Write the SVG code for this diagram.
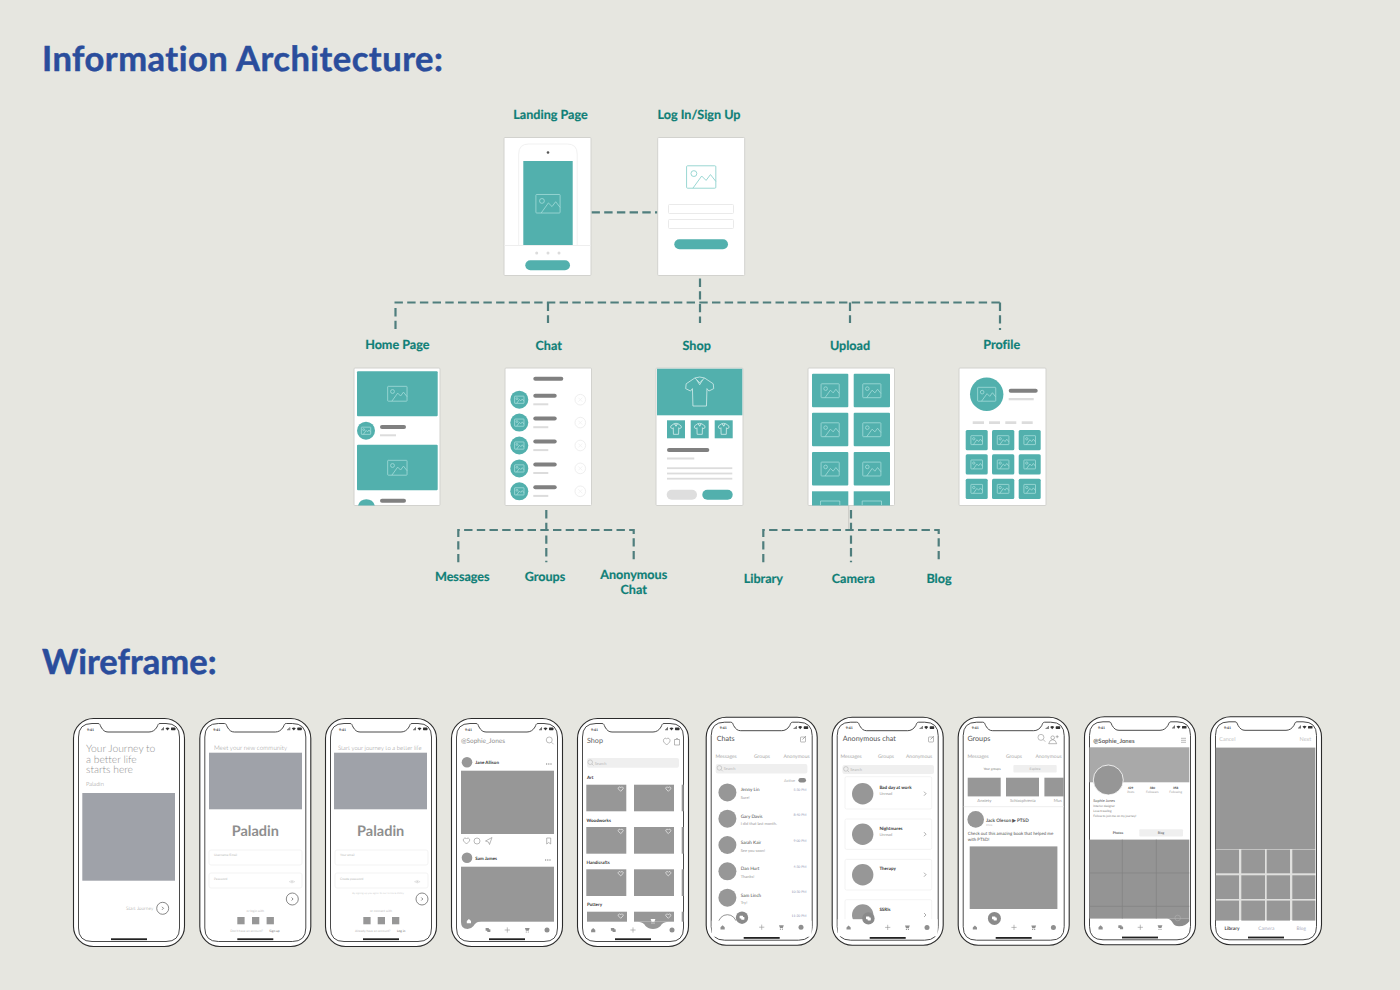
<svg xmlns="http://www.w3.org/2000/svg" width="1400" height="990" viewBox="0 0 1400 990">
<style>
text{font-family:Lato,"Liberation Sans",sans-serif;font-variant-ligatures:none;text-rendering:geometricPrecision}
.h{font-size:34.5px;font-weight:700;fill:#2a4d9c;stroke:#2a4d9c;stroke-width:.5}
.l{font-size:12.6px;font-weight:700;fill:#0f7f77;text-anchor:middle;stroke:#0f7f77;stroke-width:.2}
.card{fill:#fff;stroke:#d2d2ce;stroke-width:1}
.teal{fill:#52b0ad}
.ic{fill:none;stroke:#8fd2ce;stroke-width:.9}
.ic2{fill:none;stroke:#a5dcd9;stroke-width:.8}
#pic *,#shirt *{vector-effect:non-scaling-stroke}
.dk{fill:#808080}
.lt{fill:#dcdcdc}
.xc{fill:none;stroke:#efefef;stroke-width:1}
.dash{fill:none;stroke:#4f7e7d;stroke-width:2.2;stroke-dasharray:8.4 4.3}
.o{fill:#fff;stroke:#2b2b2b;stroke-width:1.1}
.i{fill:#fff;stroke:#4a4a4a;stroke-width:1}
.g{fill:#979797}
.bl{fill:#9fa2a9}
.lgt{font-weight:300;fill:#8f8f8f}
.fld{fill:#fff;stroke:#f0f0f0;stroke-width:.8}
.s3{font-size:3.2px;fill:#b9b9b9}
.b45{font-size:4.5px;font-weight:700;fill:#333}
.t5{font-size:5px;fill:#a8a8a8}
.t4{font-size:4px;fill:#9a9a9a}
.t3{font-size:3.4px;fill:#8e96b4}
.nm{font-size:4.6px;fill:#444}
.sb{fill:#efefef}
.stk{fill:none;stroke:#8a8a8a;stroke-width:.6}
.mid{text-anchor:middle}
.end{text-anchor:end}
.tabi{fill:#8f8f8f;stroke:#8f8f8f}
</style>
<defs>
<symbol id="pic" viewBox="0 0 31 24" overflow="visible">
<rect x=".5" y=".5" width="30" height="23" rx="1"/>
<circle cx="8" cy="8.500" r="3"/>
<path d="M7 23.500 16 11l4.500 4.500L25 9.500l5.500 7"/>
</symbol>
<symbol id="shirt" viewBox="0 0 30 31" overflow="visible">
<path d="M10 1 1 7l-.5 5 5 2.500 2-2.500.5 18h14l.5-18 2 2.500 5-2.500-.5-5L20 1l-5 5z"/>
<path d="M10 1l5-1 5 1M12 3l3 5 3-5"/>
</symbol>
<g id="hm"><path d="M-2.200 0-.1-2 2 0v2.200H-2.200z"/></g>
<g id="ch"><rect x="-2.400" y="-2" width="3.400" height="2.800" rx=".4"/><rect x="-.8" y="-.8" width="3.200" height="2.800" rx=".4"/></g>
<g id="pl"><path d="M-2.600 0H2.600M0-2.600V2.600" stroke-width=".6" fill="none"/></g>
<g id="ct"><path d="M-2.400-2H2.400L1.400.8H-1.400z"/><circle cx="-1" cy="2" r=".6"/><circle cx="1" cy="2" r=".6"/></g>
<g id="dt"><circle r="2.500"/></g>
<g id="heart"><path d="M0 2.300-2.300 0C-3.300-1.500-1-3 0-1.300 1-3 3.300-1.500 2.300 0z" fill="none" stroke="#fff" stroke-width=".6"/></g>
<g id="chev"><path d="M-1-2 1 0-1 2" fill="none" stroke="#888" stroke-width=".7"/></g>
<g id="phone">
<rect class="o" x=".5" y=".5" width="111" height="228" rx="20"/>
<path class="i" d="M5.500 19Q5.500 5.500 19 5.500H25C27 5.500 27 7 28 9 30 12.500 32 14 35 14H76C79 14 82 12.500 84 9 85 7 85 5.500 87 5.500H93Q106.500 5.500 106.500 19V210Q106.500 223.500 93 223.500H19Q5.500 223.500 5.500 210Z"/>
<rect x="38" y="220.300" width="36" height="1.800" fill="#222"/>
<text x="14" y="12.800" font-size="3.500" font-weight="700" fill="#333">9:41</text>
<path d="M88 12.200h.7v-1H88zM89.100 12.200h.7v-2h-.7zM90.200 12.200h.7v-3h-.7z" fill="#333"/>
<path d="M92.500 10.300q2-1.800 4 0l-2 2.200z" fill="#333"/>
<rect x="98" y="9.600" width="4.500" height="2.600" rx=".6" fill="#333"/>
</g>
<g id="cb"><circle r="6" fill="#fff" stroke="#555" stroke-width=".7"/><path d="M-.7-1.500.8 0-.7 1.500" fill="none" stroke="#555" stroke-width=".7"/></g>
<g id="sq"><rect x="0" y="0" width="7.300" height="7.300" class="g"/></g>
<g id="eye"><path d="M-2.800 0Q0-2.500 2.800 0 0 2.500-2.800 0z" fill="none" stroke="#ccc" stroke-width=".5"/><circle r=".8" fill="#ccc"/></g>
<g id="srch"><circle cx="-.8" cy="-.8" r="2.300" fill="none" stroke="#999" stroke-width=".5"/><path d="M1 1 2.500 2.500" stroke="#999" stroke-width=".5"/></g>
<g id="comp"><rect x="-2.500" y="-2" width="5" height="5" rx=".6" fill="none" stroke="#777" stroke-width=".5"/><path d="M-.5 .5 3-3" stroke="#777" stroke-width=".6"/></g>
<g id="cr"><circle class="teal" cx="519.300" cy="399.700" r="9"/><use href="#pic" class="ic2" x="514.300" y="396" width="10" height="7.500"/><rect class="dk" x="533.300" y="393.700" width="23.400" height="4" rx="2"/><rect class="lt" x="533.300" y="403.300" width="15" height="2"/><circle class="xc" cx="580.300" cy="399.700" r="5.300"/><path d="M578.300 397.700l4 4m0-4l-4 4" stroke="#efefef" stroke-width=".7"/></g>
</defs>
<rect width="1400" height="990" fill="#e6e6e0"/>
<text class="h" x="42" y="71" letter-spacing=".5">Information Architecture:</text>
<text class="h" x="42" y="674" letter-spacing=".05">Wireframe:</text>

<g id="connectors">
<path class="dash" d="M591.500 212.300H658"/>
<path class="dash" d="M700 278.500V323"/>
<path class="dash" d="M394.500 302.500H1001"/>
<path class="dash" d="M395.500 308V330"/>
<path class="dash" d="M548 302.500V323"/>
<path class="dash" d="M850 302.500V323"/>
<path class="dash" d="M1000 302.500V330"/>
<path class="dash" d="M546.300 510V562.300"/>
<path class="dash" d="M458.300 562.300V530H633.700V562.300"/>
<path d="M848.700 506V530" stroke="#c9c9c5" fill="none"/>
<path class="dash" d="M851 510V562.300"/>
<path class="dash" d="M763.300 562.300V530H938.700V562.300"/>
</g>

<g id="landing"><text class="l" x="550.500" y="118.700">Landing Page</text>
<rect class="card" x="504" y="137.500" width="87" height="138" rx="1"/>
<path d="M518.700 245V154q0-10 10-10h38.500q10 0 10 10v91" fill="none" stroke="#f1f1f1"/>
<circle cx="548" cy="152.500" r="1.300" fill="#555"/>
<rect class="teal" x="523.300" y="161" width="49.400" height="84.300"/>
<use href="#pic" class="ic2" x="535.500" y="194" width="25" height="19.500"/>
<path d="M504.500 245.500H590.500" stroke="#eee"/>
<circle cx="536.700" cy="253" r="1.500" class="lt"/><circle cx="548" cy="253" r="1.500" class="lt"/><circle cx="559" cy="253" r="1.500" class="lt"/>
<rect class="teal" x="525.300" y="260.300" width="44.700" height="10" rx="5"/></g>

<g id="login"><text class="l" x="699" y="118.700">Log In/Sign Up</text>
<rect class="card" x="657.700" y="137.500" width="87" height="138" rx="1"/>
<use href="#pic" class="ic" x="685.700" y="165.300" width="31" height="23.400"/>
<rect class="fld" x="668.500" y="204.500" width="65" height="9" rx="1" style="stroke:#e4e4e4"/>
<rect class="fld" x="668.500" y="219.500" width="65" height="9" rx="1" style="stroke:#e4e4e4"/>
<rect class="teal" x="674.300" y="239.300" width="53.700" height="10" rx="5"/></g>

<g id="home"><text class="l" x="397.300" y="348.700">Home Page</text>
<rect class="card" x="354" y="368" width="86" height="137.500" rx="1"/>
<rect class="teal" x="357" y="371.300" width="80.700" height="45" rx="1"/>
<use href="#pic" class="ic2" x="387" y="386" width="20.700" height="15.500"/>
<circle class="teal" cx="366" cy="430.700" r="9"/><use href="#pic" class="ic2" x="361" y="427" width="10" height="7.500"/>
<rect class="dk" x="380" y="425" width="26" height="4" rx="2"/><rect class="lt" x="380" y="434.300" width="16" height="2"/>
<rect class="teal" x="357" y="444.700" width="80.700" height="45.600" rx="1"/>
<use href="#pic" class="ic2" x="387" y="460" width="20.700" height="15.500"/>
<path class="teal" d="M358 505.500a8.800 8.800 0 0 1 16.800 0z"/>
<rect class="dk" x="380" y="498.700" width="26" height="4" rx="2"/></g>

<g id="chat"><text class="l" x="548.700" y="349.700">Chat</text>
<rect class="card" x="505" y="368" width="86.500" height="137.500" rx="1"/>
<rect class="dk" x="533.300" y="376.700" width="30" height="4" rx="2"/>
<use href="#cr"/><use href="#cr" y="22.900"/><use href="#cr" y="45.800"/><use href="#cr" y="68.700"/><use href="#cr" y="91.600"/></g>

<g id="shop"><text class="l" x="696.700" y="350">Shop</text>
<rect class="card" x="656" y="368" width="87" height="137.500" rx="1"/>
<rect class="teal" x="657" y="368.700" width="85.300" height="46.600"/>
<use href="#shirt" class="ic2" x="685.200" y="377" width="29" height="30" style="stroke:#d5eeec"/>
<rect class="teal" x="667" y="420.300" width="18" height="18"/><use href="#shirt" class="ic2" x="670.500" y="423" width="11" height="12" style="stroke:#d5eeec"/>
<rect class="teal" x="690.700" y="420.300" width="18" height="18"/><use href="#shirt" class="ic2" x="694.200" y="423" width="11" height="12" style="stroke:#d5eeec"/>
<rect class="teal" x="714.700" y="420.300" width="18" height="18"/><use href="#shirt" class="ic2" x="718.200" y="423" width="11" height="12" style="stroke:#d5eeec"/>
<rect class="dk" x="667" y="448" width="42.300" height="4" rx="2"/>
<rect class="lt" x="667" y="457.500" width="27.300" height="2"/>
<rect class="lt" x="667" y="467.300" width="65.300" height="1.800"/><rect class="lt" x="667" y="472.600" width="65.300" height="1.800"/><rect class="lt" x="667" y="477.800" width="65.300" height="1.800"/>
<rect x="666.700" y="489.700" width="30.300" height="10" rx="5" fill="#dedede"/>
<rect class="teal" x="702.300" y="489.700" width="30.400" height="10" rx="5"/></g>

<g id="upload"><text class="l" x="850" y="349.700">Upload</text>
<rect class="card" x="808" y="368" width="86.500" height="137.500" rx="1"/>
<rect class="teal" x="812" y="373.700" width="36.300" height="33.600" rx="1"/><use href="#pic" class="ic2" x="820.500" y="383.500" width="19.300" height="14.500"/>
<rect class="teal" x="853.700" y="373.700" width="36.300" height="33.600" rx="1"/><use href="#pic" class="ic2" x="862.200" y="383.500" width="19.300" height="14.500"/>
<rect class="teal" x="812" y="412.700" width="36.300" height="33.600" rx="1"/><use href="#pic" class="ic2" x="820.500" y="422.500" width="19.300" height="14.500"/>
<rect class="teal" x="853.700" y="412.700" width="36.300" height="33.600" rx="1"/><use href="#pic" class="ic2" x="862.200" y="422.500" width="19.300" height="14.500"/>
<rect class="teal" x="812" y="452" width="36.300" height="33.600" rx="1"/><use href="#pic" class="ic2" x="820.500" y="461.800" width="19.300" height="14.500"/>
<rect class="teal" x="853.700" y="452" width="36.300" height="33.600" rx="1"/><use href="#pic" class="ic2" x="862.200" y="461.800" width="19.300" height="14.500"/>
<rect class="teal" x="812" y="491.300" width="36.300" height="14.200"/><path class="ic2" d="M820.500 505V501h19.300v4"/>
<rect class="teal" x="853.700" y="491.300" width="36.300" height="14.200"/><path class="ic2" d="M862.200 505V501h19.300v4"/></g>

<g id="profile"><text class="l" x="1001.700" y="348.700">Profile</text>
<rect class="card" x="959" y="368" width="87" height="137.500" rx="1"/>
<circle class="teal" cx="986.700" cy="394.300" r="16.700"/><use href="#pic" class="ic2" x="976.700" y="387" width="20" height="14.500"/>
<rect class="dk" x="1008.700" y="388.700" width="29" height="4" rx="2"/><rect class="lt" x="1008.700" y="398" width="25" height="2.300"/>
<rect class="lt" x="972.700" y="421.300" width="11.300" height="2.700"/><rect class="lt" x="989" y="421.300" width="11" height="2.700"/><rect class="lt" x="1005.300" y="421.300" width="11" height="2.700"/><rect class="lt" x="1021.700" y="421.300" width="11" height="2.700"/>
<rect class="teal" x="965.700" y="430" width="22" height="20.300" rx="1.500"/><use href="#pic" class="ic2" x="970.700" y="435.500" width="12" height="9.300"/>
<rect class="teal" x="992" y="430" width="22.300" height="20.300" rx="1.500"/><use href="#pic" class="ic2" x="997.100" y="435.500" width="12" height="9.300"/>
<rect class="teal" x="1018.700" y="430" width="22" height="20.300" rx="1.500"/><use href="#pic" class="ic2" x="1023.700" y="435.500" width="12" height="9.300"/>
<rect class="teal" x="965.700" y="454.300" width="22" height="20.300" rx="1.500"/><use href="#pic" class="ic2" x="970.700" y="459.800" width="12" height="9.300"/>
<rect class="teal" x="992" y="454.300" width="22.300" height="20.300" rx="1.500"/><use href="#pic" class="ic2" x="997.100" y="459.800" width="12" height="9.300"/>
<rect class="teal" x="1018.700" y="454.300" width="22" height="20.300" rx="1.500"/><use href="#pic" class="ic2" x="1023.700" y="459.800" width="12" height="9.300"/>
<rect class="teal" x="965.700" y="478.700" width="22" height="20.300" rx="1.500"/><use href="#pic" class="ic2" x="970.700" y="484.200" width="12" height="9.300"/>
<rect class="teal" x="992" y="478.700" width="22.300" height="20.300" rx="1.500"/><use href="#pic" class="ic2" x="997.100" y="484.200" width="12" height="9.300"/>
<rect class="teal" x="1018.700" y="478.700" width="22" height="20.300" rx="1.500"/><use href="#pic" class="ic2" x="1023.700" y="484.200" width="12" height="9.300"/></g>

<g id="label-messages"><text class="l" x="462.300" y="580.500">Messages</text></g>
<g id="label-groups"><text class="l" x="545" y="580.500">Groups</text></g>
<g id="label-anon"><text class="l" x="633.700" y="578.500">Anonymous</text><text class="l" x="633.700" y="593.500">Chat</text></g>
<g id="label-library"><text class="l" x="763.300" y="582.500">Library</text></g>
<g id="label-camera"><text class="l" x="853.300" y="582.500">Camera</text></g>
<g id="label-blog"><text class="l" x="939" y="582.500">Blog</text></g>

<g id="wf1" transform="translate(73,718)"><use href="#phone"/>
<text x="13" y="33.700" font-size="10.300" class="lgt">Your Journey to</text>
<text x="13" y="44.500" font-size="10.300" class="lgt">a better life</text>
<text x="13" y="55" font-size="10.300" class="lgt">starts here</text>
<text x="13" y="68" font-size="5.800" class="lgt">Paladin</text>
<rect class="bl" x="9.300" y="75" width="92.700" height="87.700"/>
<text x="53" y="192" font-size="4.800" class="lgt">Start Journey</text>
<use href="#cb" x="89.700" y="190.300"/></g>

<g id="wf2" transform="translate(199.300,718)"><use href="#phone"/>
<text x="14.700" y="32" font-size="6.300" class="lgt">Meet your new community</text>
<rect class="bl" x="9.700" y="34.700" width="93" height="56.600"/>
<text x="56" y="118" font-size="14.500" font-weight="700" fill="#8e8e8e" class="mid">Paladin</text>
<rect class="fld" x="9.700" y="132" width="93" height="15" rx="2"/><text x="14.700" y="138" class="s3">Username/Email</text>
<rect class="fld" x="9.700" y="155" width="93" height="15" rx="2"/><text x="14.700" y="162" class="s3">Password</text>
<use href="#eye" x="92.700" y="163.700"/><use href="#cb" x="93" y="181"/>
<text x="56" y="194" class="s3 mid">or login with</text>
<use href="#sq" x="38" y="199"/><use href="#sq" x="52.700" y="199"/><use href="#sq" x="67.300" y="199"/>
<text x="31" y="214" class="s3">Don't have an account?</text><text x="70" y="214" class="s3" style="fill:#666">Sign up</text></g>

<g id="wf3" transform="translate(325,718)"><use href="#phone"/>
<text x="13" y="32" font-size="5.950" class="lgt">Start your journey to a better life</text>
<rect class="bl" x="9" y="34.700" width="93" height="56.600"/>
<text x="55.700" y="118" font-size="14.500" font-weight="700" fill="#8e8e8e" class="mid">Paladin</text>
<rect class="fld" x="10" y="132" width="93" height="15" rx="2"/><text x="15" y="138" class="s3">Your email</text>
<rect class="fld" x="10" y="155" width="93" height="15" rx="2"/><text x="15" y="162" class="s3">Create password</text>
<use href="#eye" x="92.300" y="163.700"/><use href="#cb" x="97" y="181"/>
<text x="53" y="175.500" font-size="2.600" fill="#cfcfcf" class="mid">By signing up you agree to our Terms &amp; Policy</text>
<text x="56" y="194" class="s3 mid">or connect with</text>
<use href="#sq" x="38.300" y="199"/><use href="#sq" x="52.700" y="199"/><use href="#sq" x="67" y="199"/>
<text x="30" y="214" class="s3">Already have an account?</text><text x="72" y="214" class="s3" style="fill:#666">Log in</text></g>

<g id="wf4" transform="translate(451,718)"><use href="#phone"/>
<text x="10" y="25.300" font-size="6.500" class="lgt" style="font-weight:400">@Sophie_Jones</text>
<g transform="translate(99.300,23) scale(1.300)"><use href="#srch"/></g>
<circle class="g" cx="16" cy="44.300" r="5.300"/><text x="24.300" y="46.300" class="b45">Jane Allison</text>
<path d="M95 46h1.200m1 0h1.200m1 0h1.200" stroke="#555" stroke-width=".8"/>
<rect class="g" x="10" y="52.700" width="93" height="63.300"/>
<g class="stk"><path d="M15.500 126 12.500 123C11.500 120.500 14.500 119 15.500 121 16.500 119 19.500 120.500 18.500 123z"/><circle cx="26" cy="123" r="3"/><path d="M34.500 123 41 119.500 38.500 126.500 37.500 124z"/><path d="M95.700 120h4v6l-2-1.500-2 1.500z"/></g>
<circle class="g" cx="16" cy="139.700" r="5.300"/><text x="24.300" y="141.800" class="b45">Sam James</text>
<path d="M94 142h1.200m1 0h1.200m1 0h1.200" stroke="#555" stroke-width=".8"/>
<rect class="g" x="10" y="148.700" width="93" height="55"/>
<path class="g" d="M10 203H30Q24.500 204 22.500 208 20 211 16.500 211 10 211 10 204z"/>
<g transform="translate(18,203)"><use href="#hm" fill="#fff"/></g>
<g class="tabi" stroke-width="0"><g transform="translate(37,212)"><use href="#ch"/></g><g transform="translate(56.300,212)"><use href="#pl"/></g><g transform="translate(76.300,212)"><use href="#ct"/></g><g transform="translate(96,212)"><use href="#dt"/></g></g></g>

<g id="wf5" transform="translate(577,718)"><use href="#phone"/>
<text x="10" y="24.700" font-size="7.200" fill="#666">Shop</text>
<g class="stk"><path d="M89.700 27 86.700 24C85.500 21 88.500 19 89.700 21 91 19 94 21 92.700 24z"/><path d="M97.500 21.500h5v5.500h-5zM98.500 21.500q1.500-3 3 0"/></g>
<rect class="sb" x="10" y="40" width="92" height="9.700" rx="2"/><g transform="translate(14,45)" opacity=".8"><use href="#srch"/></g><text x="17.700" y="46.500" font-size="4" fill="#b9b9b9">Search</text>
<text x="10" y="61.300" class="b45">Art</text>
<rect class="g" x="9.300" y="66.700" width="40" height="26.600"/><rect class="g" x="57" y="66.700" width="40" height="26.600"/><rect class="g" x="104.700" y="66.700" width="2" height="26.600"/>
<use href="#heart" x="43.700" y="71"/><use href="#heart" x="91.300" y="71"/>
<text x="9.500" y="103.700" class="b45">Woodworks</text>
<rect class="g" x="9.300" y="109" width="40" height="26.700"/><rect class="g" x="57" y="109" width="40" height="26.700"/><rect class="g" x="104.700" y="109" width="2" height="26.700"/>
<use href="#heart" x="43.700" y="113.300"/><use href="#heart" x="91.300" y="113.300"/>
<text x="9.500" y="145.700" class="b45">Handicrafts</text>
<rect class="g" x="9.300" y="151.300" width="40" height="26.700"/><rect class="g" x="57" y="151.300" width="40" height="26.700"/><rect class="g" x="104.700" y="151.300" width="2" height="26.700"/>
<use href="#heart" x="43.700" y="155.600"/><use href="#heart" x="91.300" y="155.600"/>
<text x="10" y="188" class="b45">Pottery</text>
<rect class="g" x="10" y="193.700" width="40" height="10"/><rect class="g" x="57" y="193.700" width="40" height="10"/><rect class="g" x="104.700" y="193.700" width="2" height="10"/>
<use href="#heart" x="43.700" y="198"/><use href="#heart" x="91.300" y="198"/>
<path class="g" d="M61 203.700H91Q85.500 204 83.500 208 80.500 211 76 211 71.500 211 68.500 208 66.500 204 61 203.700z"/>
<g transform="translate(76,203)"><use href="#ct" fill="#fff"/></g>
<g class="tabi" stroke-width="0"><g transform="translate(16.300,212)"><use href="#hm"/></g><g transform="translate(36.300,212)"><use href="#ch"/></g><g transform="translate(56,212)"><use href="#pl"/></g><g transform="translate(95,212)"><use href="#dt"/></g></g></g>

<g id="wf6" transform="translate(705.700,716.700)"><use href="#phone"/>
<text x="11" y="24.300" font-size="7.200" fill="#555">Chats</text><g transform="translate(97.300,22.300)"><use href="#comp"/></g>
<text x="9.700" y="41" class="t5">Messages</text><text x="48.300" y="41" class="t5">Groups</text><text x="77.700" y="41" class="t5">Anonymous</text>
<rect class="sb" x="10" y="47.300" width="91.700" height="9.400" rx="2"/><g transform="translate(14.500,52)" opacity=".8"><use href="#srch"/></g><text x="18" y="53.500" font-size="4" fill="#b9b9b9">Search</text>
<text x="78.300" y="65.300" font-size="4" fill="#aaa">Active</text><rect x="92.700" y="61.300" width="7.600" height="4.400" rx="2.200" fill="#8a8a8a"/>
<circle class="g" cx="21.700" cy="75.700" r="9"/><text x="35" y="74.700" class="nm">Jenny Lin</text><text x="35" y="82.300" class="t4">Sure!</text><text x="100.700" y="74.700" class="t3 end">5:30 PM</text>
<circle class="g" cx="21.700" cy="102" r="9"/><text x="35" y="101" class="nm">Gary Davis</text><text x="35" y="108.600" class="t4">I did that last month.</text><text x="100.700" y="99" class="t3 end">8:40 PM</text>
<circle class="g" cx="21.700" cy="128.300" r="9"/><text x="35" y="127.300" class="nm">Sarah Kair</text><text x="35" y="134.900" class="t4">See you soon!</text><text x="100.700" y="125.300" class="t3 end">9:00 PM</text>
<circle class="g" cx="21.700" cy="154.600" r="9"/><text x="35" y="153.600" class="nm">Dan Hurt</text><text x="35" y="161.200" class="t4">Thanks!</text><text x="100.700" y="151.500" class="t3 end">4:30 PM</text>
<circle class="g" cx="21.700" cy="181" r="9"/><text x="35" y="180" class="nm">Sam Linch</text><text x="35" y="187.600" class="t4">Try!</text><text x="100.700" y="176.700" class="t3 end">10:30 PM</text>
<circle cx="21.700" cy="207" r="9" fill="none" stroke="#666" stroke-width=".7"/><text x="100.700" y="200" class="t3 end">11:20 PM</text>
<rect x="6" y="204" width="100" height="16" fill="#fff"/>
<circle cx="36.300" cy="201" r="6.200" fill="#8a8a8a"/><g transform="translate(36.300,201)"><use href="#ch" fill="#fff"/></g>
<g class="tabi" stroke-width="0"><g transform="translate(17,210.500)"><use href="#hm"/></g><g transform="translate(56,210.500)"><use href="#pl"/></g><g transform="translate(75.700,210.500)"><use href="#ct"/></g><g transform="translate(95.300,210.500)"><use href="#dt"/></g></g></g>

<g id="wf7" transform="translate(831.700,716.700)"><use href="#phone"/>
<text x="11" y="24.300" font-size="7.200" fill="#555">Anonymous chat</text><g transform="translate(99.300,22.300)"><use href="#comp"/></g>
<text x="8.700" y="41.700" class="t5">Messages</text><text x="46.300" y="41.700" class="t5">Groups</text><text x="74.300" y="41.700" class="t5">Anonymous</text>
<rect class="sb" x="10.700" y="48.300" width="91.600" height="9" rx="2"/><g transform="translate(15,53)" opacity=".8"><use href="#srch"/></g><text x="18.500" y="54.500" font-size="4" fill="#b9b9b9">Search</text>
<g fill="#fff" stroke="#f0f0f0" stroke-width=".8"><rect x="13.300" y="60" width="86.700" height="32.300" rx="1.500"/><rect x="13.300" y="102.300" width="86.700" height="30.400" rx="1.500"/><rect x="13.300" y="142.700" width="86.700" height="30.600" rx="1.500"/><rect x="13.300" y="183" width="86.700" height="30" rx="1.500"/></g>
<circle class="g" cx="31" cy="77" r="10.700"/><text x="47.700" y="72.700" class="b45">Bad day at work</text><text x="47.700" y="78.700" class="t4">Unread</text><use href="#chev" x="93.300" y="77"/>
<circle class="g" cx="31" cy="117.500" r="10.700"/><text x="47.700" y="113" class="b45">Nightmares</text><text x="47.700" y="119.500" class="t4">Unread</text><use href="#chev" x="93.300" y="117.500"/>
<circle class="g" cx="31" cy="158" r="10.700"/><text x="47.700" y="153.500" class="b45">Therapy</text><use href="#chev" x="93.300" y="158"/>
<circle class="g" cx="31" cy="198.300" r="10.700"/><text x="47.700" y="194" class="b45">SSRIs</text><use href="#chev" x="93.300" y="198.300"/>
<rect x="6" y="202.500" width="100" height="17" fill="#fff"/>
<circle cx="36.700" cy="201.700" r="6.200" fill="#8a8a8a"/><g transform="translate(36.700,201.700)"><use href="#ch" fill="#fff"/></g>
<g class="tabi" stroke-width="0"><g transform="translate(17,210.700)"><use href="#hm"/></g><g transform="translate(56,210.700)"><use href="#pl"/></g><g transform="translate(75.700,210.700)"><use href="#ct"/></g><g transform="translate(95.300,210.700)"><use href="#dt"/></g></g></g>

<g id="wf8" transform="translate(957.700,716.700)"><use href="#phone"/>
<text x="9.700" y="24.300" font-size="7.200" fill="#555">Groups</text>
<g transform="translate(84.300,21.700) scale(1.300)"><use href="#srch"/></g>
<g class="stk"><circle cx="95" cy="21" r="1.800"/><path d="M91 27q1-4 4-4t4 4zM98 20h3M99.500 18.500v3"/></g>
<text x="9.700" y="41.700" class="t5">Messages</text><text x="48.300" y="41.700" class="t5">Groups</text><text x="77.700" y="41.700" class="t5">Anonymous</text>
<text x="34.300" y="53.300" font-size="3.300" fill="#777" class="mid">Your groups</text>
<rect class="sb" x="55.700" y="48.300" width="43.300" height="7.400" rx="1"/><text x="77.300" y="53.300" font-size="3.300" fill="#aaa" class="mid">Explore</text>
<rect class="g" x="10" y="61" width="33" height="18.700"/><rect class="g" x="48.300" y="61" width="33" height="18.700"/><rect class="g" x="86.700" y="61" width="19.300" height="18.700"/>
<text x="26.700" y="85.700" font-size="4.200" fill="#999" class="mid">Anxiety</text><text x="65" y="85.700" font-size="4.200" fill="#999" class="mid">Schizophrenia</text><text x="96" y="85.700" font-size="4.200" fill="#999">Mus</text>
<rect x="6" y="89.500" width="100" height="1" fill="#eee"/>
<circle class="g" cx="18" cy="102.700" r="8.300"/>
<text x="28.300" y="105" class="b45" style="fill:#555;font-size:4.700px">Jack Oleson ▶ PTSD</text><text x="28.300" y="109" font-size="2.800" fill="#aaa">3 hrs</text>
<text x="10" y="118" font-size="4.400" fill="#555">Check out this amazing book that helped me</text><text x="10" y="124" font-size="4.400" fill="#555">with PTSD!</text>
<rect class="g" x="12" y="129.700" width="87.700" height="62.600"/>
<circle cx="36.700" cy="201.700" r="6.500" fill="#8a8a8a"/><g transform="translate(36.700,201.700)"><use href="#ch" fill="#fff"/></g>
<g class="tabi" stroke-width="0"><g transform="translate(17.300,210.700)"><use href="#hm"/></g><g transform="translate(56.300,210.700)"><use href="#pl"/></g><g transform="translate(76,210.700)"><use href="#ct"/></g><g transform="translate(95.700,210.700)"><use href="#dt"/></g></g></g>

<g id="wf9" transform="translate(1084,716.300)"><use href="#phone"/>
<text x="9.300" y="26.300" font-size="6" font-weight="700" fill="#666">@Sophie_Jones</text>
<path d="M97 22h5M97 24h5M97 26h5" stroke="#777" stroke-width=".5"/>
<rect x="5.300" y="31" width="100" height="35" fill="#a9a9a9"/>
<circle cx="24.300" cy="63.700" r="15" fill="#969696" stroke="#fff" stroke-width=".8"/>
<text x="46.700" y="72.300" font-size="3" font-weight="700" fill="#333" class="mid">429</text><text x="46.700" y="76.300" font-size="3" fill="#999" class="mid">Posts</text>
<text x="68.300" y="72.300" font-size="3" font-weight="700" fill="#333" class="mid">380</text><text x="68.300" y="76.300" font-size="3" fill="#999" class="mid">Followers</text>
<text x="91.700" y="72.300" font-size="3" font-weight="700" fill="#333" class="mid">358</text><text x="91.700" y="76.300" font-size="3" fill="#999" class="mid">Following</text>
<text x="9.300" y="85.300" font-size="3.800" fill="#555">Sophie Jones</text>
<text x="9.300" y="90.700" font-size="3" fill="#777">Interior designer</text><text x="9.300" y="95.300" font-size="3" fill="#777">Love traveling</text><text x="9.300" y="100.300" font-size="3" fill="#777">Follow to join me on my journey!</text>
<text x="34" y="117.700" font-size="3.300" font-weight="700" fill="#555" class="mid">Photos</text>
<rect class="sb" x="55.300" y="113" width="43.700" height="7.300" rx="1"/><text x="77" y="117.700" font-size="3.300" font-weight="700" fill="#777" class="mid">Blog</text>
<rect x="5.300" y="123.300" width="100" height="79" fill="#949494"/>
<path d="M38.300 123.300V202.300M72.300 123.300V202.300M5.300 156.700H105.300M5.300 190H105.300" stroke="#828282" stroke-width=".7"/>
<path d="M83 202.300H105.300V205Q102 210 95 210 90.500 210 89 207 87 203 83 202.300z" fill="#8d8d8d"/>
<circle cx="93.700" cy="201.700" r="2.800" fill="none" stroke="#b5b5b5" stroke-width=".5"/>
<g class="tabi" stroke-width="0"><g transform="translate(16.700,211)"><use href="#hm"/></g><g transform="translate(36.700,211)"><use href="#ch"/></g><g transform="translate(56.300,211)"><use href="#pl"/></g><g transform="translate(76,211)"><use href="#ct"/></g></g></g>

<g id="wf10" transform="translate(1210,716.300)"><use href="#phone"/>
<text x="9.300" y="24.700" font-size="5.500" fill="#c4c4c4">Cancel</text><text x="101.300" y="24.700" font-size="5.500" fill="#c4c4c4" class="end">Next</text>
<rect class="g" x="5.700" y="31.300" width="99.600" height="101.400"/>
<rect x="5.700" y="132.700" width="99.600" height="71" fill="#e0e0de"/>
<g class="g"><rect x="5.700" y="133.300" width="23.300" height="23.700"/><rect x="31.300" y="133.300" width="23.700" height="23.700"/><rect x="56.700" y="133.300" width="23.300" height="23.700"/><rect x="82.300" y="133.300" width="23" height="23.700"/>
<rect x="5.700" y="159" width="23.300" height="23.700"/><rect x="31.300" y="159" width="23.700" height="23.700"/><rect x="56.700" y="159" width="23.300" height="23.700"/><rect x="82.300" y="159" width="23" height="23.700"/>
<rect x="5.700" y="184.300" width="23.300" height="20"/><rect x="31.300" y="184.300" width="23.700" height="20"/><rect x="56.700" y="184.300" width="23.300" height="20"/><rect x="82.300" y="184.300" width="23" height="20"/></g>
<text x="22" y="213.700" font-size="4.800" font-weight="700" fill="#444" class="mid">Library</text><text x="56.300" y="213.700" font-size="4.800" fill="#aab" class="mid">Camera</text><text x="91.300" y="213.700" font-size="4.800" fill="#aab" class="mid">Blog</text></g>
</svg>
